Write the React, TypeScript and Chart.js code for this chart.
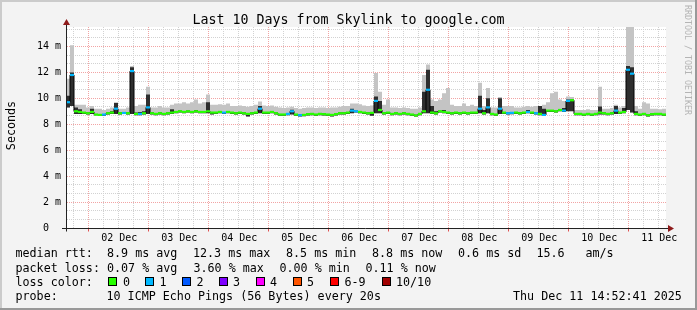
import React, { useEffect, useRef } from 'react';
import { Chart, registerables } from 'chart.js';

Chart.register(...registerables);

// ---------- data ----------
const chartTitle = 'Last 10 Days from Skylink to google.com';
const yAxisTitle = 'Seconds';
const watermark = 'RRDTOOL / TOBI OETIKER';
const spanHours = 240; // 10 days, Dec 01 14:52:41 -> Dec 11 14:52:41
const firstMidnightHour = 9.122; // hours from start to Dec 02 00:00
const dayLabels = ['02 Dec', '03 Dec', '04 Dec', '05 Dec', '06 Dec', '07 Dec', '08 Dec', '09 Dec', '10 Dec', '11 Dec'];
const yTicks = [0, 2, 4, 6, 8, 10, 12, 14];
const yTickLabels = ['0  ', '2 m', '4 m', '6 m', '8 m', '10 m', '12 m', '14 m'];
const yMax = 15.5; // ms

// median rtt (ms), one value per 1.6 h step
const medianRtt = [
  9.7, 11.8, 9.0, 8.95, 8.9, 8.85, 8.95, 8.75, 8.72, 8.75,
  8.85, 8.9, 9.2, 8.85, 8.87, 8.85, 12.1, 8.8, 8.8, 8.85,
  9.3, 8.85, 8.8, 8.85, 8.8, 8.85, 8.9, 8.95, 9.0, 8.95,
  9.0, 8.95, 9.0, 8.95, 8.95, 9.0, 8.9, 8.9, 8.95, 8.9,
  8.95, 8.9, 8.85, 8.9, 8.85, 8.8, 8.85, 8.9, 9.2, 8.9,
  8.9, 8.95, 8.85, 8.75, 8.75, 8.8, 9.0, 8.75, 8.7, 8.72,
  8.78, 8.8, 8.75, 8.8, 8.78, 8.75, 8.72, 8.78, 8.85, 8.85,
  8.9, 9.05, 9.0, 8.95, 8.9, 8.85, 8.88, 9.8, 9.1, 8.85,
  8.9, 8.8, 8.85, 8.8, 8.85, 8.8, 8.75, 8.68, 8.8, 9.0,
  10.66, 8.9, 8.85, 9.0, 8.95, 8.9, 8.85, 8.9, 8.85, 8.9,
  8.85, 8.9, 8.9, 9.2, 8.85, 9.3, 8.8, 8.75, 9.2, 8.9,
  8.85, 8.88, 8.9, 8.85, 8.9, 8.95, 8.9, 8.85, 8.8, 8.72,
  9.05, 9.05, 9.0, 9.1, 9.05, 9.8, 9.85, 8.8, 8.8, 8.75,
  8.8, 8.75, 8.8, 8.9, 8.85, 8.8, 8.85, 9.05, 8.9, 8.95,
  12.2, 11.9, 8.8, 8.75, 8.8, 8.7, 8.78, 8.8, 8.8, 8.75,
];

// lowest ping of each step (bottom of smoke)
const smokeLow = [
  9.3, 9.4, 8.8, 8.8, 8.8, 8.75, 8.8, 8.7, 8.65, 8.65,
  8.75, 8.8, 8.8, 8.75, 8.8, 8.75, 8.8, 8.7, 8.7, 8.75,
  8.8, 8.75, 8.7, 8.75, 8.7, 8.75, 8.8, 8.85, 8.9, 8.85,
  8.9, 8.85, 8.9, 8.85, 8.85, 8.85, 8.75, 8.8, 8.85, 8.8,
  8.85, 8.8, 8.75, 8.8, 8.75, 8.6, 8.75, 8.8, 8.85, 8.8,
  8.8, 8.85, 8.75, 8.65, 8.65, 8.7, 8.75, 8.65, 8.6, 8.62,
  8.68, 8.7, 8.65, 8.7, 8.68, 8.65, 8.6, 8.68, 8.75, 8.75,
  8.8, 8.85, 8.9, 8.85, 8.8, 8.75, 8.65, 8.85, 8.85, 8.75,
  8.8, 8.7, 8.75, 8.7, 8.75, 8.7, 8.65, 8.6, 8.7, 8.85,
  8.85, 8.8, 8.75, 8.9, 8.85, 8.8, 8.75, 8.8, 8.75, 8.8,
  8.75, 8.8, 8.8, 8.85, 8.75, 8.85, 8.7, 8.65, 8.8, 8.8,
  8.75, 8.78, 8.8, 8.75, 8.8, 8.85, 8.8, 8.75, 8.7, 8.65,
  8.95, 8.95, 8.9, 9.0, 8.95, 9.0, 9.0, 8.7, 8.7, 8.65,
  8.7, 8.65, 8.7, 8.75, 8.75, 8.7, 8.75, 8.8, 8.8, 8.85,
  9.1, 8.9, 8.7, 8.65, 8.7, 8.6, 8.68, 8.7, 8.7, 8.65,
];

// top of the dense (dark) smoke
const smokeDark = [
  10.2, 12.0, 9.3, 9.15, 8.95, 8.9, 9.2, 8.8, 8.8, 8.8,
  8.9, 9.0, 9.64, 8.9, 8.95, 8.9, 12.4, 8.9, 8.95, 9.0,
  10.3, 8.9, 8.85, 8.9, 8.85, 8.9, 9.15, 9.0, 9.05, 9.0,
  9.05, 9.0, 9.1, 9.0, 9.0, 9.7, 8.95, 8.95, 9.0, 8.95,
  9.0, 8.95, 8.9, 8.95, 8.9, 8.85, 8.9, 8.95, 9.4, 8.95,
  8.95, 9.0, 8.9, 8.8, 8.8, 8.85, 9.12, 8.8, 8.75, 8.77,
  8.83, 8.85, 8.8, 8.85, 8.83, 8.8, 8.77, 8.83, 8.9, 8.9,
  8.95, 9.2, 9.05, 9.0, 8.95, 8.9, 8.93, 10.15, 9.8, 8.9,
  8.95, 8.85, 8.9, 8.85, 8.9, 8.85, 8.8, 8.73, 8.85, 10.5,
  12.2, 9.4, 9.0, 9.05, 9.1, 8.95, 8.9, 8.95, 8.9, 8.95,
  8.9, 8.95, 8.95, 10.2, 9.1, 10.0, 8.85, 8.8, 10.0, 8.95,
  8.9, 8.93, 8.95, 8.9, 8.95, 9.1, 8.95, 8.9, 9.4, 9.2,
  9.1, 9.1, 9.05, 9.15, 9.25, 9.9, 9.9, 8.85, 8.85, 8.8,
  8.85, 8.8, 8.85, 9.37, 8.9, 8.85, 8.9, 9.4, 8.95, 9.25,
  12.5, 12.4, 9.0, 8.8, 8.85, 8.75, 8.83, 8.85, 8.85, 8.8,
];

// highest ping of each step (top of smoke)
const smokeHigh = [
  11.5, 14.1, 9.5, 9.5, 9.5, 9.3, 9.4, 9.2, 9.2, 9.1,
  9.2, 9.3, 9.7, 9.2, 9.2, 9.3, 12.5, 9.4, 9.5, 9.5,
  10.9, 9.3, 9.3, 9.4, 9.3, 9.3, 9.5, 9.6, 9.6, 9.7,
  9.6, 9.7, 9.9, 9.6, 9.7, 10.3, 9.5, 9.5, 9.55, 9.5,
  9.6, 9.4, 9.4, 9.45, 9.4, 9.35, 9.4, 9.5, 9.75, 9.45,
  9.4, 9.45, 9.35, 9.3, 9.25, 9.3, 9.35, 9.25, 9.2, 9.25,
  9.3, 9.3, 9.25, 9.3, 9.3, 9.25, 9.3, 9.3, 9.35, 9.4,
  9.4, 9.6, 9.6, 9.55, 9.45, 9.4, 9.45, 11.95, 10.5, 9.5,
  9.9, 9.3, 9.3, 9.25, 9.3, 9.25, 9.2, 9.2, 9.3, 11.8,
  12.6, 9.9, 9.8, 9.9, 10.4, 10.8, 9.5, 9.4, 9.4, 9.6,
  9.4, 9.5, 9.4, 11.2, 9.4, 10.8, 9.3, 9.3, 10.1, 9.4,
  9.4, 9.4, 9.3, 9.3, 9.35, 9.4, 9.35, 9.4, 9.4, 9.5,
  9.7, 10.4, 10.5, 9.9, 9.8, 10.15, 10.1, 9.1, 9.1, 9.1,
  9.15, 9.1, 9.1, 10.9, 9.2, 9.2, 9.25, 9.5, 9.3, 9.4,
  15.6, 15.6, 9.4, 9.2, 9.7, 9.6, 9.2, 9.2, 9.15, 9.2,
];

// steps where 1 of 10 pings was lost
const lossOneSteps = [0, 1, 9, 12, 14, 16, 18, 20, 39, 48, 55, 56, 58, 71, 72, 77, 90, 103, 105, 108, 110, 111, 115, 117, 119, 124, 125, 137, 140, 141];

const lossLabels = ['0', '1', '2', '3', '4', '5', '6-9', '10/10'];
const lossColors = ['#26ff00', '#00b8ff', '#0059ff', '#7e00ff', '#ff00ff', '#ff5500', '#ff0000', '#a10000'];

const rttStats = ['median rtt:', '8.9 ms avg', '12.3 ms max', '8.5 ms min', '8.8 ms now', '0.6 ms sd', '15.6', 'am/s'];
const lossStats = ['packet loss:', '0.07 % avg', '3.60 % max', '0.00 % min', '0.11 % now'];
const lossColorCaption = 'loss color:';
const probeInfo = ['probe:', '10 ICMP Echo Pings (56 Bytes) every 20s'];
const timestamp = 'Thu Dec 11 14:52:41 2025';

// ---------- layout / style ----------
const MONO = '"DejaVu Sans Mono", monospace';
const rttX = [15.5, 107, 193, 286, 372, 458, 536.5, 585.5];
const lossX = [15.5, 107, 193.5, 279.5, 365.5];
const swatchX = [108, 145, 182, 219, 256, 293, 330, 382];
const swatchLabelX = [123, 159.5, 196.5, 233, 270, 307, 344.5, 396];

const stepH = spanHours / medianRtt.length;
const edges = (arr: number[]) => [
  ...arr.map((v, i) => ({ x: i * stepH, y: v })),
  { x: spanHours, y: arr[arr.length - 1] },
];

const rrdPlugin = {
  id: 'rrdDecor',
  beforeDatasetsDraw(chart: any) {
    const { ctx, width, height, chartArea: a } = chart;
    const xs = chart.scales.x;
    const ys = chart.scales.y;
    ctx.save();
    ctx.fillStyle = '#f3f3f3';
    ctx.fillRect(0, 0, width, height);
    ctx.fillStyle = '#cbcbcb';
    ctx.fillRect(0, 0, width, 2);
    ctx.fillRect(0, 0, 2, height);
    ctx.fillStyle = '#999999';
    ctx.fillRect(0, height - 2, width, 2);
    ctx.fillRect(width - 2, 0, 2, height);
    ctx.fillStyle = '#ffffff';
    ctx.fillRect(a.left, a.top, a.right - a.left, a.bottom - a.top);

    ctx.lineWidth = 1;
    ctx.setLineDash([1, 1]);
    const hline = (y: number, c: string) => {
      ctx.strokeStyle = c;
      ctx.beginPath();
      ctx.moveTo(a.left + 1, y);
      ctx.lineTo(a.right, y);
      ctx.stroke();
    };
    const vline = (x: number, c: string) => {
      ctx.strokeStyle = c;
      ctx.beginPath();
      ctx.moveTo(x, a.top);
      ctx.lineTo(x, a.bottom);
      ctx.stroke();
    };
    const minor = '#d2d2d2';
    const major = '#f2a4a4';
    // minor horizontal every 2/3 ms
    for (let k = 1; (k * 2) / 3 < yMax; k++) {
      if (k % 3 === 0) continue;
      hline(Math.floor(ys.getPixelForValue((k * 2) / 3)) + 0.5, minor);
    }
    // minor vertical every 6 h
    for (let k = -1; firstMidnightHour + 6 * k < spanHours; k++) {
      if (k % 4 === 0) continue;
      const h = firstMidnightHour + 6 * k;
      if (h <= 0) continue;
      vline(Math.floor(xs.getPixelForValue(h)) + 0.5, minor);
    }
    // major grid
    yTicks.forEach((v) => {
      if (v === 0) return;
      hline(Math.floor(ys.getPixelForValue(v)) + 0.5, major);
    });
    for (let d = 0; firstMidnightHour + 24 * d < spanHours; d++) {
      vline(Math.floor(xs.getPixelForValue(firstMidnightHour + 24 * d)) + 0.5, major);
    }
    ctx.restore();
  },
  afterDraw(chart: any) {
    const { ctx, width, chartArea: a } = chart;
    const xs = chart.scales.x;
    const ys = chart.scales.y;
    ctx.save();
    ctx.setLineDash([]);
    ctx.lineWidth = 1;
    const y0 = Math.floor(ys.getPixelForValue(0)) + 0.5;
    const xa = Math.floor(a.left) + 0.5;
    // red ticks under axis at midnights
    ctx.strokeStyle = '#e05050';
    for (let d = 0; firstMidnightHour + 24 * d < spanHours; d++) {
      const x = Math.floor(xs.getPixelForValue(firstMidnightHour + 24 * d)) + 0.5;
      ctx.beginPath();
      ctx.moveTo(x, y0);
      ctx.lineTo(x, y0 + 3);
      ctx.stroke();
    }
    // axes
    ctx.strokeStyle = '#222';
    ctx.beginPath();
    ctx.moveTo(a.left - 4, y0);
    ctx.lineTo(a.right + 3, y0);
    ctx.moveTo(xa, y0 + 3);
    ctx.lineTo(xa, a.top - 3);
    ctx.stroke();
    // arrows
    ctx.fillStyle = '#8e1b1b';
    ctx.beginPath();
    ctx.moveTo(xa, a.top - 8);
    ctx.lineTo(xa - 3.5, a.top - 2);
    ctx.lineTo(xa + 3.5, a.top - 2);
    ctx.closePath();
    ctx.fill();
    ctx.beginPath();
    ctx.moveTo(a.right + 8, y0);
    ctx.lineTo(a.right + 2, y0 - 3.5);
    ctx.lineTo(a.right + 2, y0 + 3.5);
    ctx.closePath();
    ctx.fill();

    // y tick labels
    ctx.fillStyle = '#000';
    ctx.font = `10px ${MONO}`;
    ctx.textAlign = 'right';
    ctx.textBaseline = 'middle';
    yTicks.forEach((v, i) => ctx.fillText(yTickLabels[i], a.left - 5, ys.getPixelForValue(v)));
    // x day labels centered at noon
    ctx.textAlign = 'center';
    ctx.textBaseline = 'alphabetic';
    dayLabels.forEach((lab, d) => {
      ctx.fillText(lab, xs.getPixelForValue(firstMidnightHour + 12 + 24 * d) + 0.5, 241);
    });

    // title
    ctx.font = `13.3px ${MONO}`;
    ctx.fillText(chartTitle, width / 2, 24);

    // y-axis title
    ctx.font = `11.7px ${MONO}`;
    ctx.save();
    ctx.translate(14.5, 125.5);
    ctx.rotate(-Math.PI / 2);
    ctx.textAlign = 'center';
    ctx.fillText(yAxisTitle, 0, 0);
    ctx.restore();

    // watermark
    ctx.save();
    ctx.font = `8.3px ${MONO}`;
    ctx.fillStyle = '#b4b4b4';
    ctx.translate(685, 5);
    ctx.rotate(Math.PI / 2);
    ctx.textAlign = 'left';
    ctx.fillText(watermark, 0, 0);
    ctx.restore();

    // legend lines
    ctx.font = `11.7px ${MONO}`;
    ctx.textAlign = 'left';
    ctx.fillStyle = '#000';
    rttStats.forEach((t, i) => ctx.fillText(t, rttX[i], 257));
    lossStats.forEach((t, i) => ctx.fillText(t, lossX[i], 272));
    ctx.fillText(lossColorCaption, 15.5, 286);
    lossLabels.forEach((lab, i) => {
      ctx.fillStyle = '#000';
      ctx.fillRect(swatchX[i], 277, 9, 9);
      ctx.fillStyle = lossColors[i];
      ctx.fillRect(swatchX[i] + 1, 278, 7, 7);
      ctx.fillStyle = '#000';
      ctx.fillText(lab, swatchLabelX[i], 286);
    });
    ctx.fillText(probeInfo[0], 15.5, 300);
    ctx.fillText(probeInfo[1], 106.5, 300);
    ctx.fillText(timestamp, 513, 300);
    ctx.restore();
  },
};

export default function App() {
  const ref = useRef<HTMLCanvasElement | null>(null);
  useEffect(() => {
    if (!ref.current) return;
    const lossSet = new Set(lossOneSteps);
    const dashColors = medianRtt.map((_, i) => (lossSet.has(i) ? lossColors[1] : lossColors[0]));
    const chart = new Chart(ref.current, {
      type: 'line',
      data: {
        datasets: [
          {
            label: 'median (loss colour)',
            data: medianRtt.map((v, i) => ({ x: (i + 0.5) * stepH, y: v })),
            showLine: false,
            pointStyle: 'line',
            pointRadius: 2,
            pointBorderWidth: 2.2,
            pointBorderColor: dashColors,
            pointBackgroundColor: dashColors,
          } as any,
          {
            label: 'median',
            data: edges(medianRtt),
            stepped: 'before',
            borderColor: '#000',
            borderWidth: 1,
            pointRadius: 0,
            fill: false,
          },
          {
            label: 'dense smoke',
            data: edges(smokeDark),
            stepped: 'before',
            borderColor: 'rgba(0,0,0,0)',
            borderWidth: 0,
            pointRadius: 0,
            backgroundColor: '#2e2e2e',
            fill: 3,
          },
          {
            label: 'smoke low',
            data: edges(smokeLow),
            stepped: 'before',
            borderColor: 'rgba(0,0,0,0)',
            borderWidth: 0,
            pointRadius: 0,
            fill: false,
          },
          {
            label: 'smoke high',
            data: edges(smokeHigh),
            stepped: 'before',
            borderColor: 'rgba(0,0,0,0)',
            borderWidth: 0,
            pointRadius: 0,
            backgroundColor: '#c4c4c4',
            fill: 3,
          },
        ],
      },
      options: {
        animation: false,
        responsive: false,
        maintainAspectRatio: false,
        devicePixelRatio: 1,
        events: [],
        layout: { padding: { left: 66, top: 27, right: 31, bottom: 82 } },
        scales: {
          x: { type: 'linear', min: 0, max: spanHours, display: false },
          y: { type: 'linear', min: 0, max: yMax, display: false },
        },
        plugins: {
          legend: { display: false },
          tooltip: { enabled: false },
          title: { display: false },
        },
      },
      plugins: [rrdPlugin],
    });
    return () => chart.destroy();
  }, []);

  return (
    <div style={{ position: 'fixed', left: 0, top: 0 }}>
      <canvas ref={ref} width={697} height={310} style={{ display: 'block', width: 697, height: 310 }} />
    </div>
  );
}
